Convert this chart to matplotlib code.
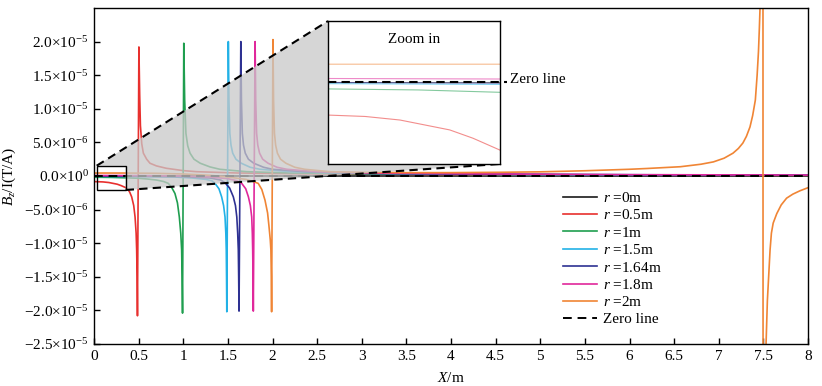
import numpy as np
import matplotlib.pyplot as plt
from matplotlib.patches import Polygon, Rectangle
from matplotlib.ticker import FuncFormatter

plt.rcParams['font.family'] = ['Liberation Serif', 'DejaVu Serif']
plt.rcParams['mathtext.fontset'] = 'custom'
plt.rcParams['mathtext.rm'] = 'Liberation Serif'
plt.rcParams['mathtext.it'] = 'Liberation Serif:italic'
plt.rcParams['font.size'] = 11

# Bz/I values, in units of 1e-6 T/A
x_r0 = [0.0, 8.0]
b_r0 = [0.0, 0.0]

x_r05 = [0.0, 0.1, 0.166, 0.26, 0.304, 0.355, 0.38, 0.40, 0.422, 0.445, 0.46, 0.472, 0.478,
         0.483, 0.487, 0.503, 0.512, 0.52, 0.535, 0.553, 0.59, 0.627, 0.7, 0.81, 1.0, 1.15,
         1.6, 2.2, 3.0, 4.5, 6.0, 8.0]
b_r05 = [-0.83, -0.88, -0.97, -1.22, -1.43, -1.73, -2.0, -2.4, -3.1, -4.4, -6.1, -8.5, -11.0,
         -15.0, -20.8, 19.2, 12.0, 7.5, 4.8, 3.4, 2.5, 1.9, 1.5, 1.15, 0.8, 0.64,
         0.45, 0.35, 0.28, 0.2, 0.15, 0.1]

x_r1 = [0.0, 0.2, 0.355, 0.5, 0.6, 0.7, 0.78, 0.833, 0.87, 0.907, 0.935, 0.956, 0.972, 0.982,
        0.987, 0.992, 1.006, 1.016, 1.03, 1.05, 1.076, 1.12, 1.19, 1.3, 1.41, 1.71, 2.2, 3.0,
        4.5, 6.0, 8.0]
b_r1 = [-0.18, -0.21, -0.27, -0.34, -0.45, -0.6, -0.82, -1.1, -1.7, -2.6, -4.0, -6.1, -8.5, -11.0,
        -15.0, -20.4, 19.75, 11.3, 6.35, 4.5, 3.4, 2.5, 1.9, 1.35, 1.0, 0.64, 0.45, 0.33,
        0.22, 0.16, 0.1]

x_r15 = [0.0, 0.5, 0.9, 1.1, 1.25, 1.32, 1.356, 1.4, 1.43, 1.452, 1.468, 1.477, 1.482, 1.485,
         1.488, 1.505, 1.512, 1.522, 1.535, 1.554, 1.59, 1.65, 1.75, 1.86, 2.2, 2.8, 4.0, 5.5, 8.0]
b_r15 = [-0.05, -0.08, -0.15, -0.3, -0.5, -0.7, -1.1, -1.9, -3.1, -4.4, -6.1, -8.5, -11.0, -15.0,
         -20.2, 20.0, 11.3, 6.35, 4.6, 3.4, 2.5, 1.9, 1.3, 1.0, 0.64, 0.42, 0.28, 0.2, 0.13]

x_r164 = [0.0, 0.5, 1.0, 1.3, 1.42, 1.468, 1.52, 1.561, 1.585, 1.6, 1.61, 1.617, 1.621, 1.625,
          1.645, 1.652, 1.662, 1.675, 1.695, 1.73, 1.79, 1.9, 2.0, 2.35, 3.0, 4.5, 6.0, 8.0]
b_r164 = [-0.02, -0.05, -0.1, -0.3, -0.6, -1.0, -1.8, -3.1, -4.4, -6.1, -8.5, -11.0, -15.0, -20.1,
          20.0, 11.3, 6.35, 4.6, 3.4, 2.5, 1.9, 1.3, 1.0, 0.64, 0.4, 0.25, 0.18, 0.12]

x_r18 = [0.0, 0.5, 1.0, 1.3, 1.5, 1.6, 1.655, 1.7, 1.73, 1.752, 1.767, 1.774, 1.778, 1.782,
         1.785, 1.805, 1.812, 1.822, 1.835, 1.855, 1.89, 1.95, 2.05, 2.16, 2.5, 3.2, 4.5, 6.0, 8.0]
b_r18 = [0.08, 0.06, 0.0, -0.15, -0.4, -0.7, -1.1, -1.9, -3.1, -4.4, -6.1, -8.5, -11.0, -15.0,
         -20.1, 20.0, 11.3, 6.35, 4.6, 3.4, 2.5, 1.9, 1.3, 1.0, 0.64, 0.42, 0.3, 0.2, 0.14]

x_r2 = [0.0, 0.355, 0.7, 1.0, 1.3, 1.5, 1.7, 1.78, 1.84, 1.88,
        1.916, 1.945, 1.96, 1.975, 1.982, 1.987, 1.99,
        2.005, 2.012, 2.022, 2.035, 2.055, 2.09, 2.15, 2.25, 2.36,
        2.645, 3.0, 3.5, 4.0, 4.55, 5.0, 5.5, 6.0, 6.2,
        6.57, 6.8, 6.94, 7.06, 7.16, 7.22, 7.27, 7.31, 7.35, 7.38, 7.41, 7.43, 7.445,
        7.455, 7.465, 7.48, 7.495, 7.497,
        7.52, 7.53, 7.545, 7.565, 7.575, 7.59, 7.61, 7.65, 7.7, 7.76, 7.83, 7.91, 8.0]
b_r2 = [0.44, 0.44, 0.4, 0.3, 0.1, -0.15, -0.5, -0.8, -1.1, -2.0,
        -3.6, -5.5, -7.4, -9.5, -11.0, -15.0, -20.2,
        20.3, 11.3, 6.35, 4.6, 3.4, 2.5, 1.9, 1.3, 1.0,
        0.64, 0.55, 0.5, 0.5, 0.55, 0.62, 0.78, 1.0, 1.12,
        1.38, 1.75, 2.1, 2.65, 3.4, 4.1, 4.9, 5.9, 7.3, 9.0, 11.3, 15.0, 18.5,
        22.0, 26.0, 40.0, 60.0, -60.0,
        -35.0, -25.0, -18.5, -13.5, -11.0, -8.5, -7.0, -5.6, -4.3, -3.3, -2.7, -2.2, -1.74]

labels = ['0', '0.5', '1', '1.5', '1.64', '1.8', '2']
xs = [x_r0, x_r05, x_r1, x_r15, x_r164, x_r18, x_r2]
bs = [b_r0, b_r05, b_r1, b_r15, b_r164, b_r18, b_r2]
colors = ['#1a1a1a', '#e8302e', '#1f9e4f', '#22b1e6', '#2e3192', '#e0289b', '#f08535']

# zoom window and where the inset sits (data coords of main axes)
zx0, zx1 = 0.03, 0.355
zy0, zy1 = -2.08e-6, 1.53e-6
ins_x0, ins_x1 = 2.622, 4.549
ins_y0, ins_y1 = 1.79e-6, 2.306e-5


def sci_fmt(v, pos):
    if abs(v) < 1e-12:
        return r'$0.0{\times}10^{0}$'
    e = int(np.floor(np.log10(abs(v)) + 1e-9))
    m = v / 10.0**e
    return r'$%.1f{\times}10^{%d}$' % (m, e)


fig = plt.figure(figsize=(8.22, 3.86), dpi=100)
ax = fig.add_axes([94/822, 42/386, 714/822, 336/386])

for x, b, c, lab in zip(xs, bs, colors, labels):
    ax.plot(x, np.array(b)*1e-6, color=c, lw=1.2, label=r'$r$ =' + lab + 'm', zorder=2)
ax.axhline(0, color='black', lw=1.4, dashes=(4.5, 3), label='Zero line', zorder=2.5)

ax.set_xlim(0, 8)
ax.set_ylim(-2.5e-5, 2.5e-5)
ax.set_xticks(np.arange(0, 8.01, 0.5))
ax.set_xticklabels(['0', '0.5', '1', '1.5', '2', '2.5', '3', '3.5', '4', '4.5', '5',
                    '5.5', '6', '6.5', '7', '7.5', '8'])
ax.set_yticks(np.arange(-2.5e-5, 2.01e-5, 5e-6))
ax.yaxis.set_major_formatter(FuncFormatter(sci_fmt))
ax.tick_params(direction='in', length=4, width=1, pad=4)
for s in ax.spines.values():
    s.set_linewidth(1.0)
ax.set_xlabel(r'$X$/m', labelpad=6)
ax.set_ylabel(r'$B_z$/I(T/A)', labelpad=4)

# shaded connection between zoom box and inset
shade = Polygon([(zx0, zy1), (ins_x0, ins_y1), (ins_x1, ins_y0), (zx1, zy0), (zx1, zy1)],
                closed=True, facecolor='#c9c9c9', edgecolor='none', alpha=0.75, zorder=3)
ax.add_patch(shade)
ax.plot([zx0, ins_x0], [zy1, ins_y1], color='black', lw=1.5, dashes=(4, 2.5), zorder=4)
ax.plot([zx1, ins_x1], [zy0, ins_y0], color='black', lw=1.5, dashes=(4, 2.5), zorder=4)
ax.add_patch(Rectangle((zx0, zy0), zx1 - zx0, zy1 - zy0, fill=False, edgecolor='black',
                       lw=1.0, zorder=4))

axins = ax.inset_axes([ins_x0, ins_y0, ins_x1 - ins_x0, ins_y1 - ins_y0], transform=ax.transData)
for x, b, c in zip(xs, bs, colors):
    axins.plot(x, np.array(b)*1e-6, color=c, lw=0.8, alpha=0.55)
axins.plot([zx0, zx1 + 0.013], [0, 0], color='black', lw=1.5, dashes=(4, 2.5), clip_on=False)
axins.set_xlim(zx0, zx1)
axins.set_ylim(zy0, zy1)
axins.set_xticks([])
axins.set_yticks([])
for s in axins.spines.values():
    s.set_linewidth(1.0)
axins.text(0.5, 0.87, 'Zoom in', transform=axins.transAxes, ha='center', va='center')
ax.text(4.66, 1.43e-5, 'Zero line', ha='left', va='center', zorder=6)

ax.legend(loc='upper left', bbox_to_anchor=(0.657, 0.455), frameon=False, handlelength=2.2,
          labelspacing=0.22, handletextpad=0.4, borderaxespad=0, borderpad=0)

fig.savefig('out.png', dpi=100)
